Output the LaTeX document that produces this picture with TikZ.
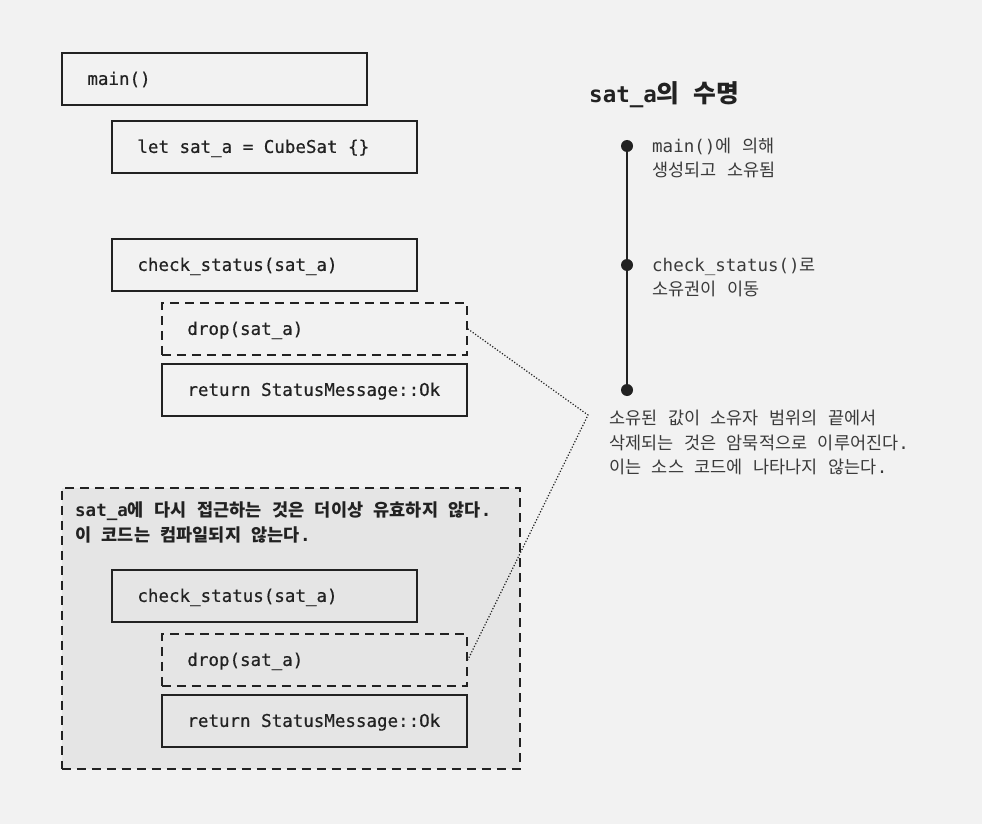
\documentclass[tikz,border=0pt]{standalone}
\usepackage{fontspec}
\setmainfont{DejaVu Sans Mono}
\newfontfamily\codefont[FakeBold=0.6]{DejaVu Sans Mono}
\newfontfamily\kr{Noto Sans CJK KR}
\newfontfamily\krtitle[Scale=1.1]{Noto Sans CJK KR}
\newcommand\K[1]{{\kr #1}}
\newcommand\KB[1]{{\kr\bfseries #1}}
\newcommand\KT[1]{{\krtitle\bfseries #1}}
\definecolor{bg}{HTML}{F2F2F2}
\definecolor{greyfill}{HTML}{E5E5E5}
\definecolor{ink}{HTML}{222222}
\definecolor{soft}{HTML}{3A3A3A}
\tikzset{
  codebox/.style={draw=ink, line width=1.8pt, minimum height=52pt, minimum width=305pt,
    inner xsep=25pt, inner ysep=0pt, anchor=north west, text=ink,
    text height=13pt, text depth=1pt, font=\codefont\fontsize{17.5}{20}\selectfont,
    execute at begin node={\hbox to 254pt\bgroup},
    execute at end node={\hfil\egroup}},
  dropbox/.style={codebox, dash pattern=on 9pt off 6pt},
  labeltext/.style={anchor=base west, inner sep=0pt, text=soft, font=\fontsize{17.5}{20}\selectfont},
  boldtext/.style={anchor=base west, inner sep=0pt, text=ink, font=\fontsize{17.5}{20}\selectfont\bfseries},
  tdot/.style={circle, fill=ink, minimum size=12pt, inner sep=0pt},
  dotted link/.style={line width=1.2pt, dash pattern=on 1.2pt off 1.8pt, draw=ink}
}
\begin{document}
\begin{tikzpicture}[x=1pt,y=-1pt]
\fill[bg] (0,0) rectangle (982,824);
\useasboundingbox (0,0) rectangle (982,824);

% top code boxes
\node[codebox] (main) at (61,52) {main()};
\node[codebox] (let) at (111,120) {let sat\_a = CubeSat \{\}};
\node[codebox] (chk1) at (111,238) {check\_status(sat\_a)};
\node[dropbox] (drop1) at (161,302) {drop(sat\_a)};
\node[codebox] (ret1) at (161,363) {return StatusMessage::Ok};

% grey invalid region
\node[draw=ink, fill=greyfill, line width=1.8pt, dash pattern=on 9pt off 6pt,
  minimum width=458pt, minimum height=281pt, anchor=north west, inner sep=0pt] (grey) at (61,487) {};
\node[boldtext] (g1) at (75,516) {sat\_a\KB{에} \KB{다시} \KB{접근하는} \KB{것은} \KB{더이상} \KB{유효하지} \KB{않다}.};
\node[boldtext] (g2) at (75,541) {\KB{이} \KB{코드는} \KB{컴파일되지} \KB{않는다}.};
\node[codebox] (chk2) at (111,569) {check\_status(sat\_a)};
\node[dropbox] (drop2) at (161,633) {drop(sat\_a)};
\node[codebox] (ret2) at (161,694) {return StatusMessage::Ok};

% lifetime timeline
\node[anchor=base west, inner sep=0pt, text=ink, font=\fontsize{22.5}{26}\selectfont\bfseries] (title) at (589,103) {sat\_a\KT{의} \KT{수명}};
\node[tdot] (d1) at (627,146) {};
\node[tdot] (d2) at (627,265) {};
\node[tdot] (d3) at (627,390) {};
\draw[ink, line width=2pt] (d1.center) -- (d2.center) -- (d3.center);

\node[labeltext] (l1a) at (652,152) {main()\K{에} \K{의해}};
\node[labeltext] (l1b) at (652,176) {\K{생성되고} \K{소유됨}};
\node[labeltext] (l2a) at (652,271) {check\_status()\K{로}};
\node[labeltext] (l2b) at (652,295) {\K{소유권이} \K{이동}};

\node[labeltext] (n1) at (609,424) {\K{소유된} \K{값이} \K{소유자} \K{범위의} \K{끝에서}};
\node[labeltext] (n2) at (609,449) {\K{삭제되는} \K{것은} \K{암묵적으로} \K{이루어진다}.};
\node[labeltext] (n3) at (609,473) {\K{이는} \K{소스} \K{코드에} \K{나타나지} \K{않는다}.};

% dotted connectors
\coordinate (apex) at (588,415);
\draw[dotted link] (drop1.east) -- (apex) -- (drop2.east);
\end{tikzpicture}
\end{document}
